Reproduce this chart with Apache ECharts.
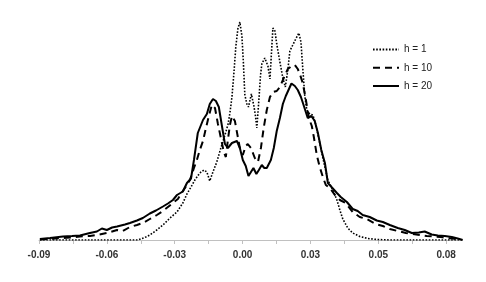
<!DOCTYPE html>
<html>
<head>
<meta charset="utf-8">
<script src="https://cdn.jsdelivr.net/npm/echarts@6/dist/echarts.min.js"></script>
<style>html,body{margin:0;padding:0;background:#fff}#c{width:486px;height:282px}</style>
</head>
<body>
<div id="c"></div>
<script>
// tick positions and labels
var tickValues = [-0.09,-0.075,-0.06,-0.045,-0.03,-0.015,0,0.015,0.03,0.045,0.06,0.075,0.09];
var labelValues = [-0.09,-0.06,-0.03,0,0.03,0.06,0.09];
var labelTexts = ['-0.09','-0.06','-0.03','0.00','0.03','0.05','0.08'];
var seriesNames = ['h = 1','h = 10','h = 20'];

// h = 1 (dotted)
var h1 = [[-0.0896,0],[-0.0463,0],[-0.0432,2.5],[-0.0410,5],[-0.0379,10],[-0.0352,15],[-0.0321,22],[-0.0290,28],[-0.0264,37],[-0.0246,46],[-0.0228,53],[-0.0211,60],[-0.0189,67],[-0.0171,70],[-0.0158,68],[-0.0145,59],[-0.0131,68],[-0.0114,78],[-0.0096,92],[-0.0078,105],[-0.0065,115],[-0.0056,127],[-0.0047,143],[-0.0038,168],[-0.0030,193],[-0.0021,211],[-0.0012,218],[-0.0003,204],[0.0003,180],[0.0010,145],[0.0019,136],[0.0026,133],[0.0039,146],[0.0050,134],[0.0057,124],[0.0063,112],[0.0072,140],[0.0079,164],[0.0085,176],[0.0098,182],[0.0112,174],[0.0121,161],[0.0134,212],[0.0143,209],[0.0151,196],[0.0165,178],[0.0178,162],[0.0189,153],[0.0200,170],[0.0209,189],[0.0222,195],[0.0235,201],[0.0249,207],[0.0258,198],[0.0266,172],[0.0275,144],[0.0284,130],[0.0297,126],[0.0311,125],[0.0324,115],[0.0341,97],[0.0355,82],[0.0377,60],[0.0399,50],[0.0417,40],[0.0430,30],[0.0443,21],[0.0465,12],[0.0487,7],[0.0518,3.5],[0.0554,1.5],[0.0593,0.5],[0.0651,0],[0.0969,0]];

// h = 10 (dashed)
var h10 = [[-0.0896,0.5],[-0.0829,1.5],[-0.0763,2.5],[-0.0719,3.5],[-0.0675,4],[-0.0644,5],[-0.0600,7],[-0.0555,10],[-0.0529,9],[-0.0498,13],[-0.0467,15],[-0.0441,17],[-0.0410,21],[-0.0379,25],[-0.0352,29],[-0.0330,33],[-0.0308,37],[-0.0286,41],[-0.0264,49],[-0.0246,55],[-0.0233,60],[-0.0215,72],[-0.0202,80],[-0.0189,90],[-0.0175,99],[-0.0162,112],[-0.0149,124],[-0.0136,135],[-0.0122,132],[-0.0109,116],[-0.0096,102],[-0.0083,88],[-0.0074,83],[-0.0065,100],[-0.0056,115],[-0.0047,124],[-0.0034,119],[-0.0021,103],[-0.0012,92],[0.0001,85],[0.0014,94],[0.0023,96],[0.0037,92],[0.0054,82],[0.0068,78],[0.0081,92],[0.0094,113],[0.0107,130],[0.0121,143],[0.0134,148],[0.0151,149],[0.0165,153],[0.0182,162],[0.0200,171],[0.0218,174],[0.0231,175],[0.0244,171],[0.0253,166],[0.0266,157],[0.0280,140],[0.0293,122],[0.0306,114],[0.0315,103],[0.0328,85],[0.0341,73],[0.0355,63],[0.0368,55],[0.0386,52],[0.0408,45],[0.0430,40],[0.0456,37],[0.0487,28],[0.0518,23],[0.0549,21],[0.0589,16],[0.0620,14],[0.0651,11],[0.0686,9],[0.0722,7],[0.0753,6],[0.0783,5],[0.0814,4],[0.0845,3.5],[0.0876,3],[0.0903,2],[0.0929,1.5],[0.0960,0]];

// h = 20 (solid)
var h20 = [[-0.0896,1],[-0.0851,2],[-0.0794,3.5],[-0.0754,4],[-0.0719,4.5],[-0.0675,7],[-0.0644,8.5],[-0.0622,11.5],[-0.0600,10],[-0.0577,12.5],[-0.0555,13.5],[-0.0520,15.5],[-0.0498,17],[-0.0467,19.5],[-0.0441,22],[-0.0410,26.5],[-0.0383,29.5],[-0.0352,33.5],[-0.0330,36.5],[-0.0308,40],[-0.0290,45],[-0.0264,48.5],[-0.0246,57],[-0.0228,61.5],[-0.0215,80],[-0.0198,107],[-0.0175,120],[-0.0158,126],[-0.0145,136],[-0.0131,141],[-0.0118,139],[-0.0105,133],[-0.0092,115],[-0.0078,96],[-0.0065,92],[-0.0047,97],[-0.0025,99],[-0.0012,92],[0.0001,80],[0.0014,74],[0.0026,64],[0.0037,68],[0.0048,72],[0.0061,66],[0.0072,70],[0.0085,75],[0.0096,72],[0.0107,72],[0.0125,80],[0.0138,92],[0.0151,109],[0.0165,122],[0.0178,136],[0.0191,144],[0.0205,151],[0.0216,156.5],[0.0231,154],[0.0244,150],[0.0258,143],[0.0271,134],[0.0288,122],[0.0304,124],[0.0319,119],[0.0333,107],[0.0348,90],[0.0364,77],[0.0377,57],[0.0399,51.5],[0.0417,47],[0.0434,43],[0.0461,38],[0.0487,31],[0.0509,29],[0.0531,25],[0.0562,23],[0.0593,19.5],[0.0620,18],[0.0651,15],[0.0686,12],[0.0717,10],[0.0748,7],[0.0779,7.5],[0.0805,8.5],[0.0836,5.5],[0.0863,4.5],[0.0894,4],[0.0925,3],[0.0951,1.5],[0.0973,0]];

var chart = echarts.init(document.getElementById('c'), null, {renderer: 'canvas'});
chart.setOption({
  animation: false,
  backgroundColor: '#ffffff',
  grid: {left: 39, right: 24, top: 20, bottom: 42, containLabel: false},
  legend: {
    orient: 'vertical', left: 367, top: 39,
    itemWidth: 26, itemHeight: 14, itemGap: 7,
    itemStyle: {opacity: 0},
    textStyle: {fontFamily: 'Liberation Sans', fontSize: 10, color: '#222'},
    data: seriesNames
  },
  xAxis: {
    type: 'value', min: -0.09, max: 0.097,
    axisLine: {lineStyle: {color: '#c0c0c0', width: 1}},
    axisTick: {show: true, length: 4, customValues: tickValues, lineStyle: {color: '#c0c0c0'}},
    splitLine: {show: false},
    axisLabel: {
      customValues: labelValues, margin: 10,
      fontFamily: 'Liberation Sans', fontSize: 10, fontWeight: 'bold', color: '#333',
      formatter: function (v) {
        var i = Math.round((v + 0.09) / 0.03);
        return labelTexts[i] || '';
      }
    }
  },
  yAxis: {type: 'value', min: 0, max: 220, show: false, splitLine: {show: false}},
  series: [
    {name: seriesNames[0], type: 'line', data: h1, symbol: 'none', z: 3,
     lineStyle: {color: '#000', width: 1.6, type: [1.6, 1.6]}, itemStyle: {color: '#000'}},
    {name: seriesNames[1], type: 'line', data: h10, symbol: 'none', z: 4,
     lineStyle: {color: '#000', width: 2, type: [7, 5]}, itemStyle: {color: '#000'}},
    {name: seriesNames[2], type: 'line', data: h20, symbol: 'none', z: 5,
     lineStyle: {color: '#000', width: 2}, itemStyle: {color: '#000'}}
  ]
});
</script>
</body>
</html>
